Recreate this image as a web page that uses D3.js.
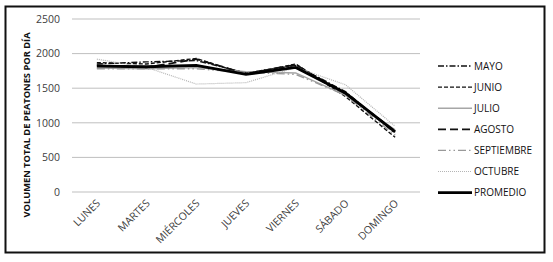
<!DOCTYPE html>
<html>
<head>
<meta charset="utf-8">
<script src="https://cdn.jsdelivr.net/npm/d3@7"></script>
<style>
  body { margin: 0; background: #fff; overflow: hidden; }
  svg { display: block; }
  text { font-family: "Open Sans", "Liberation Sans", sans-serif; }
</style>
</head>
<body>
<div id="chart"></div>
<script>
const width = 553, height = 262;

// Data
const days = ["LUNES", "MARTES", "MIÉRCOLES", "JUEVES", "VIERNES", "SÁBADO", "DOMINGO"];
const seriesNames = ["MAYO", "JUNIO", "JULIO", "AGOSTO", "SEPTIEMBRE", "OCTUBRE", "PROMEDIO"];
const mayo = [1850, 1880, 1900, 1720, 1830, 1450, 850];
const junio = [1870, 1850, 1930, 1700, 1850, 1380, 790];
const julio = [1790, 1780, 1800, 1740, 1720, 1400, 900];
const agosto = [1830, 1800, 1920, 1710, 1840, 1420, 880];
const septiembre = [1780, 1780, 1780, 1730, 1700, 1400, 820];
const octubre = [1920, 1800, 1560, 1580, 1800, 1550, 950];
const promedio = [1820, 1810, 1830, 1700, 1800, 1430, 870];
const yTicks = [0, 500, 1000, 1500, 2000, 2500];

const seriesValues = [mayo, junio, julio, agosto, septiembre, octubre, promedio];

// line styles per series
const styles = {
    "MAYO":       { color: "#111", width: 1.4, dash: "6,2,1.5,2" },
    "JUNIO":      { color: "#111", width: 1.4, dash: "4,2" },
    "JULIO":      { color: "#a6a6a6", width: 1.4, dash: null },
    "AGOSTO":     { color: "#111", width: 1.8, dash: "8,4" },
    "SEPTIEMBRE": { color: "#999", width: 1.4, dash: "8,3,1.5,3,1.5,3" },
    "OCTUBRE":    { color: "#b5b5b5", width: 1.2, dash: "1,1" },
    "PROMEDIO":   { color: "#000", width: 2.8, dash: null }
};

const margin = { left: 72, right: 133, top: 19, bottom: 70 };
const innerWidth = width - margin.left - margin.right;
const innerHeight = 192 - margin.top;

const svg = d3.select("#chart")
    .append("svg")
    .attr("width", width)
    .attr("height", height);

// Outer frame
svg.append("rect")
    .attr("x", 5.5)
    .attr("y", 6.5)
    .attr("width", 539)
    .attr("height", 246)
    .attr("fill", "none")
    .attr("stroke", "#111")
    .attr("stroke-width", 2);

const innerChart = svg.append("g")
    .attr("transform", `translate(${margin.left},${margin.top})`);

const xScale = d3.scalePoint()
    .domain(days)
    .range([0, innerWidth])
    .padding(0.5);

const yScale = d3.scaleLinear()
    .domain([0, 2500])
    .range([innerHeight, 0]);

// Gridlines
innerChart.selectAll("line.grid")
    .data(yTicks)
    .join("line")
    .attr("class", "grid")
    .attr("x1", 0)
    .attr("x2", innerWidth)
    .attr("y1", d => yScale(d))
    .attr("y2", d => yScale(d))
    .attr("stroke", "#bfbfbf")
    .attr("stroke-width", 1);

// Y axis labels
const yAxis = innerChart.append("g")
    .call(d3.axisLeft(yScale).tickValues(yTicks).tickFormat(d3.format("d")).tickSize(0).tickPadding(12));
yAxis.select(".domain").remove();
yAxis.selectAll("text")
    .attr("font-size", 10.5)
    .attr("fill", "#404040");

// X axis labels (rotated 45 degrees around their anchor)
innerChart.selectAll("text.xlabel")
    .data(days)
    .join("text")
    .attr("class", "xlabel")
    .attr("x", d => xScale(d) + 4)
    .attr("y", innerHeight + 12)
    .attr("transform", d => `rotate(-45 ${xScale(d) + 4} ${innerHeight + 12})`)
    .attr("text-anchor", "end")
    .attr("font-size", 10.5)
    .attr("fill", "#404040")
    .text(d => d);

// Lines
const line = d3.line()
    .x((d, i) => xScale(days[i]))
    .y(d => yScale(d));

seriesNames.forEach((name, i) => {
    const s = styles[name];
    innerChart.append("path")
        .datum(seriesValues[i])
        .attr("fill", "none")
        .attr("stroke", s.color)
        .attr("stroke-width", s.width)
        .attr("stroke-dasharray", s.dash)
        .attr("d", line);
});

// Y axis title
svg.append("text")
    .attr("transform", "rotate(-90)")
    .attr("x", -125)
    .attr("y", 30)
    .attr("text-anchor", "middle")
    .attr("font-size", 9.3)
    .attr("font-weight", "bold")
    .attr("fill", "#111")
    .text("VOLUMEN TOTAL DE PEATONES POR DÍA");

// Legend
const legend = svg.append("g")
    .attr("transform", "translate(438, 66)");

seriesNames.forEach((name, i) => {
    const s = styles[name];
    const g = legend.append("g")
        .attr("transform", `translate(0, ${i * 21.1})`);
    g.append("line")
        .attr("x1", 0)
        .attr("x2", 34)
        .attr("stroke", s.color)
        .attr("stroke-width", s.width)
        .attr("stroke-dasharray", s.dash);
    g.append("text")
        .attr("x", 36)
        .attr("dy", "0.35em")
        .attr("font-size", 10)
        .attr("fill", "#111")
        .text(name);
});
</script>
</body>
</html>
